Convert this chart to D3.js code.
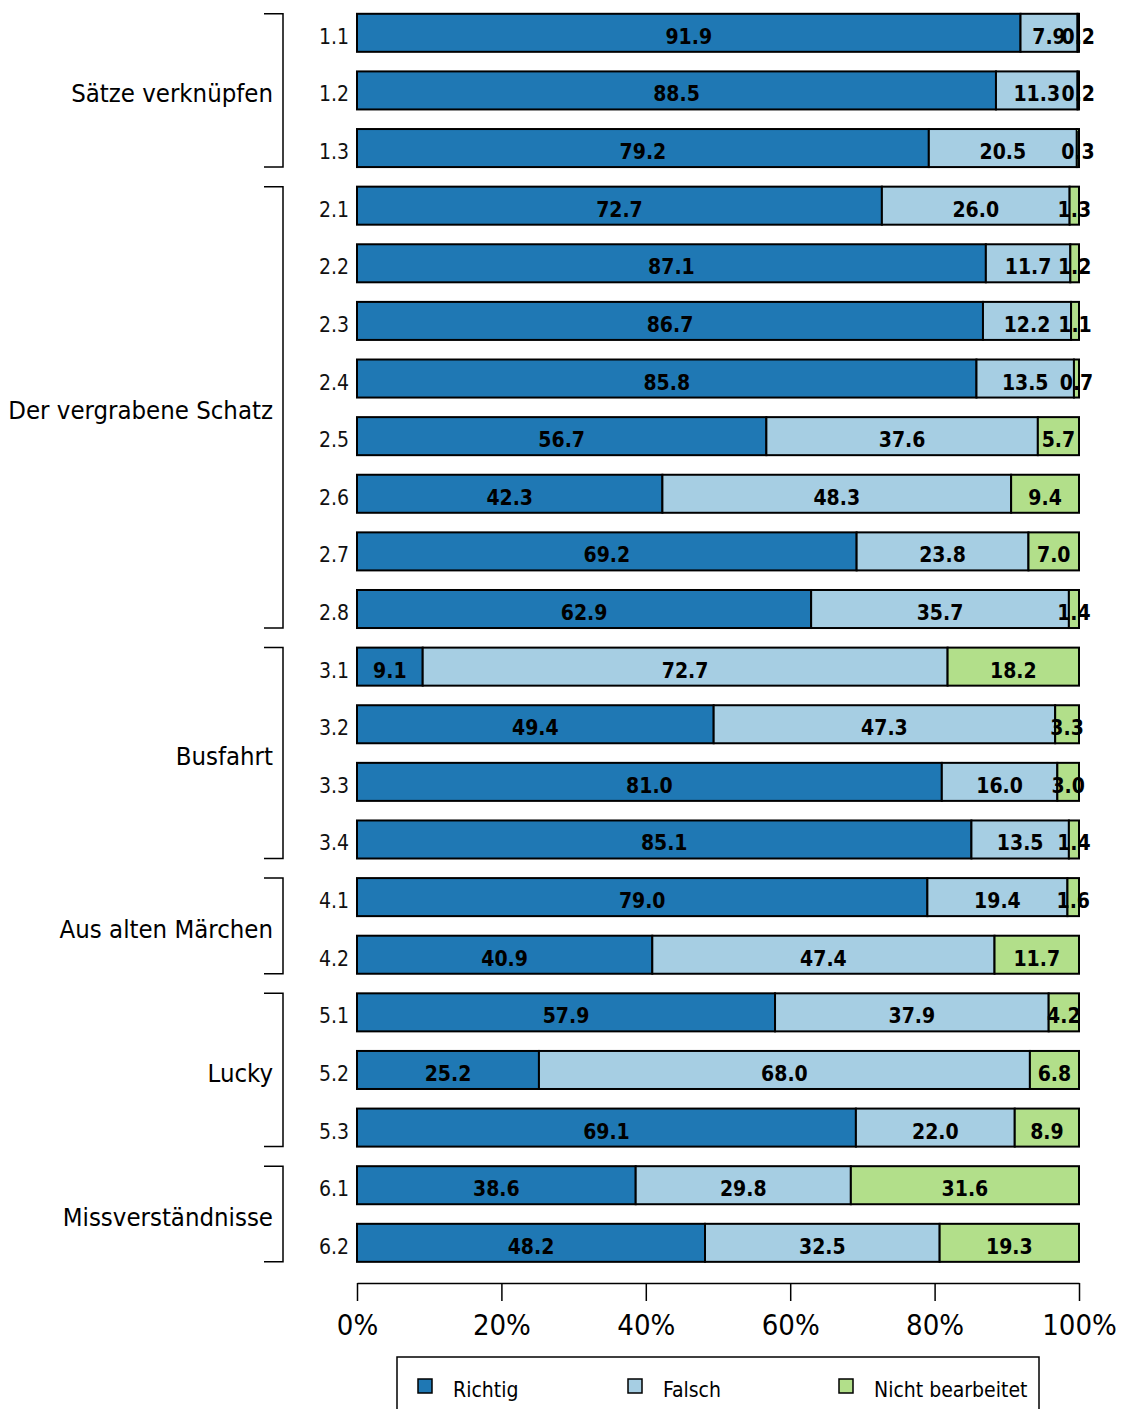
<!DOCTYPE html>
<html>
<head>
<meta charset="utf-8">
<script src="https://cdn.jsdelivr.net/npm/d3@7"></script>
<style>
  body { margin: 0; background: #fff; }
  svg { display: block; font-family: "DejaVu Sans Condensed", "DejaVu Sans", sans-serif; }
</style>
</head>
<body>
<div class="chart"></div>
<script>
const items = ['1.1','1.2','1.3','2.1','2.2','2.3','2.4','2.5','2.6','2.7','2.8',
  '3.1','3.2','3.3','3.4','4.1','4.2','5.1','5.2','5.3','6.1','6.2'];
const richtig = [91.9,88.5,79.2,72.7,87.1,86.7,85.8,56.7,42.3,69.2,62.9,9.1,49.4,81.0,85.1,79.0,40.9,57.9,25.2,69.1,38.6,48.2];
const falsch  = [7.9,11.3,20.5,26.0,11.7,12.2,13.5,37.6,48.3,23.8,35.7,72.7,47.3,16.0,13.5,19.4,47.4,37.9,68.0,22.0,29.8,32.5];
const nicht   = [0.2,0.2,0.3,1.3,1.2,1.1,0.7,5.7,9.4,7.0,1.4,18.2,3.3,3.0,1.4,1.6,11.7,4.2,6.8,8.9,31.6,19.3];
const groups = [
  {name: 'Sätze verknüpfen', first: '1.1', last: '1.3'},
  {name: 'Der vergrabene Schatz', first: '2.1', last: '2.8'},
  {name: 'Busfahrt', first: '3.1', last: '3.4'},
  {name: 'Aus alten Märchen', first: '4.1', last: '4.2'},
  {name: 'Lucky', first: '5.1', last: '5.3'},
  {name: 'Missverständnisse', first: '6.1', last: '6.2'}
];
const seriesNames = ['Richtig','Falsch','Nicht bearbeitet'];
const colors = ['#1f78b4','#a6cee3','#b2df8a'];
const ticks = [0,20,40,60,80,100];

const width = 1128, height = 1409;
const data = items.map((d,i)=>({item: d, Richtig: richtig[i], Falsch: falsch[i], 'Nicht bearbeitet': nicht[i]}));

const svg = d3.select('.chart').append('svg')
  .attr('width', width)
  .attr('height', height);

const x = d3.scaleLinear().domain([0,100]).range([357,1079]);
const y = d3.scaleBand().domain(items).range([4, 4+22*57.62]).paddingInner(0.34).paddingOuter(0.17);
const color = d3.scaleOrdinal().domain(seriesNames).range(colors);

const stacked = d3.stack().keys(seriesNames)(data);

const layer = svg.selectAll('.layer')
  .data(stacked)
  .enter().append('g')
  .attr('class','layer')
  .attr('fill', d=>color(d.key));

layer.selectAll('rect')
  .data(d=>d)
  .enter().append('rect')
  .attr('x', d=>x(d[0]))
  .attr('y', d=>y(d.data.item))
  .attr('width', d=>x(d[1])-x(d[0]))
  .attr('height', y.bandwidth())
  .attr('stroke','#000')
  .attr('stroke-width',2);

// value labels (small segments overlap, as in the original)
stacked.forEach(s=>{
  svg.selectAll('.v-'+s.index)
    .data(s)
    .enter().append('text')
    .attr('x', d=>(x(d[0])+x(d[1]))/2)
    .attr('y', d=>y(d.data.item)+y.bandwidth()/2+4)
    .attr('text-anchor','middle')
    .attr('dominant-baseline','central')
    .attr('font-size',21)
    .attr('font-weight','bold')
    .attr('fill','#000')
    .text(d=>(d[1]-d[0]).toFixed(1));
});

// item labels
svg.selectAll('.item-label')
  .data(items)
  .enter().append('text')
  .attr('class','item-label')
  .attr('x',349)
  .attr('y', d=>y(d)+y.bandwidth()/2+4)
  .attr('text-anchor','end')
  .attr('dominant-baseline','central')
  .attr('font-size',21)
  .attr('fill','#111')
  .text(d=>d);

// group brackets
const bx = 283;
groups.forEach(g=>{
  const top = y(g.first), bot = y(g.last)+y.bandwidth();
  svg.append('path')
    .attr('d', `M${bx-19},${top}H${bx}V${bot}H${bx-19}`)
    .attr('fill','none')
    .attr('stroke','#000')
    .attr('stroke-width',1.5);
  svg.append('text')
    .attr('x',273)
    .attr('y',(top+bot)/2+3)
    .attr('text-anchor','end')
    .attr('dominant-baseline','central')
    .attr('font-size',25.5)
    .attr('fill','#000')
    .text(g.name);
});

// x axis
const axis = svg.append('g')
  .attr('transform','translate(0,1283)')
  .call(d3.axisBottom(x).tickValues(ticks).tickSize(18).tickSizeOuter(0).tickPadding(13).tickFormat(d=>d+'%'));
axis.selectAll('path, line').attr('stroke','#000').attr('stroke-width',1.5);
axis.selectAll('text').attr('font-size',29).attr('fill','#000')
  .attr('font-family','"DejaVu Sans Condensed", "DejaVu Sans", sans-serif');

// legend
const lg = svg.append('g');
lg.append('rect')
  .attr('x',397).attr('y',1357).attr('width',642).attr('height',80)
  .attr('fill','none').attr('stroke','#000').attr('stroke-width',1.5);
const lx = [418, 628, 839];
seriesNames.forEach((s,i)=>{
  lg.append('rect')
    .attr('x',lx[i]).attr('y',1379).attr('width',14).attr('height',14)
    .attr('fill',color(s)).attr('stroke','#000').attr('stroke-width',1.5);
  lg.append('text')
    .attr('x',lx[i]+35).attr('y',1390)
    .attr('dominant-baseline','central')
    .attr('font-size',21)
    .attr('fill','#000')
    .text(s);
});
</script>
</body>
</html>
